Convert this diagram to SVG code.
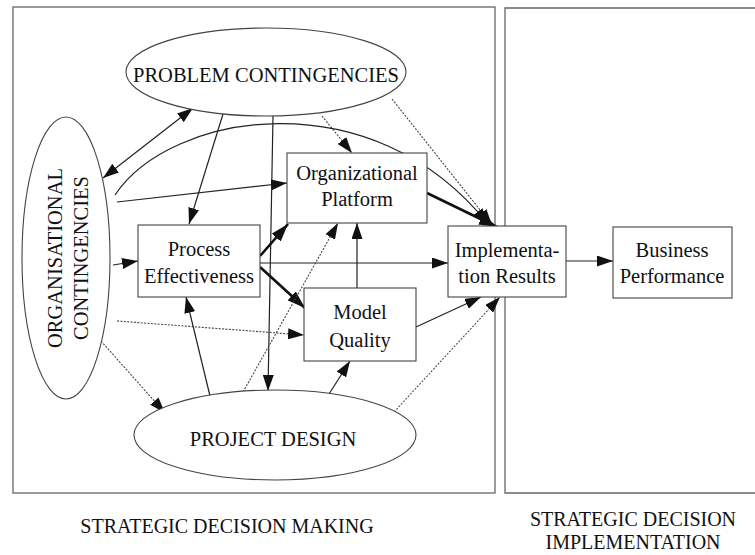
<svg xmlns="http://www.w3.org/2000/svg" width="755" height="555" viewBox="0 0 755 555">
<defs>
<style>
.frame{fill:none;stroke:#666;stroke-width:1.3}
.node{fill:#fff;stroke:#444;stroke-width:1.1}
.t{font-family:"Liberation Serif","Times New Roman",serif;font-size:20.5px;fill:#111;text-anchor:middle}
.lbl{font-family:"Liberation Serif","Times New Roman",serif;font-size:20px;fill:#111;text-anchor:middle}
.c{fill:none;stroke:#222;stroke-width:1.2;marker-end:url(#ah)}
.thick{fill:none;stroke:#111;stroke-width:2.6;marker-end:url(#ahL)}
.dot{fill:none;stroke:#444;stroke-width:1.1;stroke-dasharray:2 1.4;marker-end:url(#ah)}
</style>
<marker id="ah" markerUnits="userSpaceOnUse" markerWidth="17" markerHeight="11" refX="16" refY="5.5" orient="auto-start-reverse"><path d="M0,0 L16,5.5 L0,11 z" fill="#111"/></marker>
<marker id="ahL" markerUnits="userSpaceOnUse" markerWidth="19" markerHeight="12" refX="18" refY="6" orient="auto"><path d="M0,0 L18,6 L0,12 z" fill="#111"/></marker>
</defs>
<g id="frames">
<rect class="frame" x="13" y="7" width="482" height="486"/>
<path class="frame" d="M756,8 L505,8 L505,493 L756,493"/>
</g>
<g id="connectors">
<path class="c" style="marker-start:url(#ah)" d="M103,178 L193,108"/>
<path class="c" d="M223,114 L189,224"/>
<path class="c" d="M273,116 L268,391"/>
<path class="dot" d="M322,116 L352,153"/>
<path class="dot" d="M392,99 L492,225"/>
<path class="c" d="M115,195 C170,112 372,78 488,224"/>
<path class="c" d="M117,202 L287,183"/>
<path class="c" d="M113,265 L138,261"/>
<path class="dot" d="M117,321 L304,335"/>
<path class="dot" d="M101,341 L165,413"/>
<path class="thick" d="M260,256 L288,224"/>
<path class="c" d="M260,263 L448,263"/>
<path class="thick" d="M260,267 L305,308"/>
<path class="c" d="M210,396 L186,297"/>
<path class="dot" d="M243,392 L338,223"/>
<path class="c" d="M357,288 L357,223"/>
<path class="c" d="M329,394 L350,361"/>
<path class="c" d="M416,327 L481,297"/>
<path class="dot" d="M394,412 L500,297"/>
<path class="thick" d="M427,193 L497,227"/>
<path class="c" d="M566,261 L613,261"/>
</g>
<g id="problem-contingencies">
<ellipse class="node" cx="266" cy="72" rx="140" ry="44"/>
<text class="t" x="266" y="82">PROBLEM CONTINGENCIES</text>
</g>
<g id="organisational-contingencies">
<ellipse class="node" cx="66" cy="258" rx="44" ry="141"/>
<text class="t" transform="translate(62,258) rotate(-90)" x="0" y="0">ORGANISATIONAL</text>
<text class="t" transform="translate(88,258) rotate(-90)" x="0" y="0">CONTINGENCIES</text>
</g>
<g id="process-effectiveness">
<rect class="node" x="138" y="225" width="122" height="72"/>
<text class="t" x="199" y="256">Process</text>
<text class="t" x="199" y="283">Effectiveness</text>
</g>
<g id="organizational-platform">
<rect class="node" x="287" y="153" width="140" height="70"/>
<text class="t" x="357" y="180">Organizational</text>
<text class="t" x="357" y="206">Platform</text>
</g>
<g id="model-quality">
<rect class="node" x="304" y="288" width="112" height="73"/>
<text class="t" x="360" y="319">Model</text>
<text class="t" x="360" y="347">Quality</text>
</g>
<g id="implementation-results">
<rect class="node" x="448" y="226" width="118" height="71"/>
<text class="t" x="507" y="257">Implementa-</text>
<text class="t" x="507" y="283">tion Results</text>
</g>
<g id="business-performance">
<rect class="node" x="613" y="227" width="119" height="71"/>
<text class="t" x="672" y="257">Business</text>
<text class="t" x="672" y="283">Performance</text>
</g>
<g id="project-design">
<ellipse class="node" cx="275" cy="435" rx="141" ry="45"/>
<text class="t" x="273" y="446">PROJECT DESIGN</text>
</g>
<g id="labels">
<text class="lbl" x="227" y="533">STRATEGIC DECISION MAKING</text>
<text class="lbl" x="633" y="526">STRATEGIC DECISION</text>
<text class="lbl" x="633" y="549">IMPLEMENTATION</text>
</g>
</svg>
